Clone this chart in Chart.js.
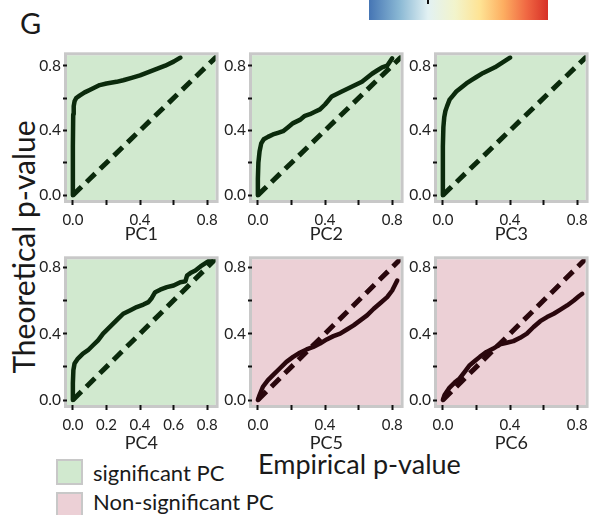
<!DOCTYPE html>
<html><head><meta charset="utf-8">
<script src="https://cdn.jsdelivr.net/npm/chart.js@4/dist/chart.umd.min.js"></script>
<style>
html,body{margin:0;padding:0;background:#fff;}
body{width:599px;height:515px;position:relative;overflow:hidden;font-family:Lato,"Open Sans",sans-serif;color:#1a1a1a;}
.cv{position:absolute;}
.txt{position:absolute;white-space:nowrap;line-height:1;}
</style></head>
<body>
<div id="cbar" style="position:absolute;left:369px;top:0;width:179px;height:20px;background:linear-gradient(to right,#4575b4 0%,#8ab8d4 17%,#e2f1f3 33%,#f2f4cc 48%,#fee394 62%,#fdae61 75%,#f06843 88%,#d73027 100%);"></div>
<div style="position:absolute;left:427px;top:0;width:2px;height:4px;background:#111;"></div>
<div class="txt" style="left:20px;top:8px;font-size:29px;">G</div>
<div class="txt" id="ytitle" style="left:23px;top:247px;font-size:30px;transform:translate(-50%,-50%) rotate(-90deg);">Theoretical p-value</div>
<div class="txt" style="left:258px;top:450px;font-size:27px;">Empirical p-value</div>
<div style="position:absolute;left:56px;top:459px;width:23px;height:22px;background:#d1e9cf;border:2px solid #c8c8c8;"></div>
<div style="position:absolute;left:56px;top:492px;width:23px;height:22px;background:#ecd0d6;border:2px solid #c8c8c8;"></div>
<div class="txt" style="left:93px;top:462px;font-size:22px;">significant PC</div>
<div class="txt" style="left:93px;top:491px;font-size:22px;">Non-significant PC</div>
<script>
// ---- data (empirical x, theoretical y) ----
const panelNames = ["PC1","PC2","PC3","PC4","PC5","PC6"];
const significant = [true,true,true,true,false,false];
const tickValues = [0,0.2,0.4,0.6,0.8];
const diagX = [0,0.87];
const diagY = [0,0.87];

const pc1X = [0,0,0.002,0.005,0.01,0.02,0.04,0.07,0.1,0.13,0.16,0.2,0.26,0.3,0.35,0.4,0.45,0.5,0.55,0.6,0.64];
const pc1Y = [0,0.3,0.5,0.55,0.58,0.6,0.615,0.635,0.65,0.665,0.68,0.69,0.70,0.71,0.725,0.74,0.76,0.78,0.80,0.825,0.85];

const pc2X = [0,0,0.003,0.01,0.02,0.035,0.06,0.09,0.12,0.15,0.18,0.21,0.25,0.28,0.31,0.34,0.37,0.4,0.42,0.44,0.47,0.5,0.54,0.58,0.62,0.65,0.68,0.71,0.74,0.77,0.8];
const pc2Y = [0,0.1,0.2,0.27,0.32,0.345,0.36,0.375,0.385,0.395,0.42,0.445,0.465,0.49,0.5,0.515,0.53,0.56,0.585,0.61,0.625,0.64,0.66,0.68,0.70,0.725,0.75,0.77,0.79,0.80,0.845];

const pc3X = [0,0,0.003,0.008,0.015,0.025,0.04,0.06,0.08,0.11,0.14,0.17,0.2,0.24,0.28,0.31,0.34,0.37,0.4];
const pc3Y = [0,0.3,0.42,0.48,0.52,0.55,0.59,0.615,0.64,0.665,0.69,0.71,0.73,0.755,0.775,0.79,0.81,0.83,0.85];

const pc4X = [0,0,0.003,0.01,0.03,0.06,0.09,0.12,0.15,0.18,0.21,0.24,0.27,0.3,0.34,0.38,0.42,0.45,0.47,0.49,0.52,0.56,0.6,0.64,0.67,0.68,0.7,0.73,0.76,0.79,0.82];
const pc4Y = [0,0.1,0.18,0.22,0.25,0.28,0.3,0.33,0.36,0.4,0.43,0.46,0.49,0.52,0.54,0.56,0.575,0.59,0.615,0.65,0.665,0.68,0.69,0.71,0.715,0.75,0.765,0.78,0.805,0.825,0.845];

const pc5X = [0,0.01,0.03,0.06,0.09,0.13,0.17,0.21,0.25,0.29,0.33,0.37,0.41,0.45,0.49,0.53,0.57,0.61,0.65,0.69,0.73,0.77,0.8,0.83];
const pc5Y = [0,0.03,0.08,0.12,0.15,0.19,0.23,0.26,0.285,0.305,0.32,0.34,0.365,0.385,0.4,0.425,0.45,0.48,0.51,0.55,0.585,0.62,0.66,0.72];

const pc6X = [0,0.01,0.04,0.07,0.1,0.13,0.16,0.19,0.22,0.26,0.3,0.34,0.38,0.42,0.46,0.5,0.54,0.58,0.62,0.66,0.7,0.74,0.78,0.81,0.83];
const pc6Y = [0,0.03,0.075,0.105,0.13,0.17,0.21,0.235,0.26,0.29,0.31,0.335,0.345,0.355,0.375,0.4,0.44,0.475,0.5,0.52,0.545,0.57,0.6,0.625,0.64];

const seriesX = [pc1X,pc2X,pc3X,pc4X,pc5X,pc6X];
const seriesY = [pc1Y,pc2Y,pc3Y,pc4Y,pc5Y,pc6Y];

// ---- layout ----
const colLeft = [67,252,437];
const rowTop = [48,252];
const areaW = 151;
const areaH = [152,153];
const yAxisW = 45, padTop = 4, padRight = 6, xAxisH = [47,51];

const panelBg = {
  id:'panelBg',
  beforeDraw(chart, args, opts){
    const {ctx, chartArea:a} = chart;
    ctx.save();
    ctx.fillStyle = opts.fill;
    ctx.fillRect(a.left, a.top, a.width, a.height);
    ctx.strokeStyle = '#c8c8c8';
    ctx.lineWidth = 3;
    ctx.strokeRect(a.left-1.5, a.top-1.5, a.width+3, a.height+3);
    ctx.restore();
  }
};

panelNames.forEach((name, i) => {
  const r = Math.floor(i/3), c = i%3;
  const cv = document.createElement('canvas');
  cv.className = 'cv';
  const w = yAxisW + areaW + padRight;
  const h = padTop + areaH[r] + xAxisH[r];
  cv.style.left = (colLeft[c] - yAxisW) + 'px';
  cv.style.top = (rowTop[r] - padTop) + 'px';
  cv.style.width = w + 'px'; cv.style.height = h + 'px';
  cv.width = w; cv.height = h;
  document.body.appendChild(cv);
  const col = significant[i] ? '#0b2a0c' : '#2a070d';
  const allX = (i === 3);
  new Chart(cv, {
    type: 'line',
    data: {
      datasets: [
        { data: seriesX[i].map((x,k)=>({x, y: seriesY[i][k]})), borderColor: col, borderWidth: 4.5, pointRadius: 0, tension: 0, clip: 0, borderJoinStyle:'round', borderCapStyle:'round' },
        { data: diagX.map((x,k)=>({x, y: diagY[k]})), borderColor: col, borderWidth: 5, borderDash: [12,7], pointRadius: 0, clip: 0 }
      ]
    },
    options: {
      responsive: false, animation: false, devicePixelRatio: 1,
      layout: { padding: { top: padTop, right: padRight, left: 0, bottom: 0 } },
      plugins: { legend: { display: false }, tooltip: { enabled: false }, panelBg: { fill: significant[i] ? '#d1e9cf' : '#ecd0d6' } },
      scales: {
        x: {
          type: 'linear', min: -0.035, max: 0.85,
          afterBuildTicks: s => { s.ticks = tickValues.map(v=>({value:v})); },
          afterFit: s => { s.height = xAxisH[r]; },
          ticks: { autoSkip: false, maxRotation: 0, padding: 6, color: '#222', font: { family: 'Lato', size: 15 },
                   callback: v => (allX || Math.round(v*10) % 4 === 0) ? v.toFixed(1) : '' },
          grid: { drawOnChartArea: false, drawTicks: true, tickLength: 5, tickColor: '#111', tickWidth: 2 },
          border: { display: false },
          title: { display: true, text: name, color: '#222', font: { family: 'Lato', size: 18 }, padding: { top: 0, bottom: 2 } }
        },
        y: {
          type: 'linear', min: -0.03, max: r === 0 ? 0.864 : 0.848,
          afterBuildTicks: s => { s.ticks = tickValues.map(v=>({value:v})); },
          afterFit: s => { s.width = yAxisW; },
          ticks: { autoSkip: false, padding: 2, color: '#222', font: { family: 'Lato', size: 15.5 },
                   callback: v => (Math.round(v*10) % 4 === 0) ? v.toFixed(1) : '' },
          grid: { drawOnChartArea: false, drawTicks: true, tickLength: 4, tickColor: '#111', tickWidth: 2 },
          border: { display: false }
        }
      }
    },
    plugins: [panelBg]
  });
});
</script>
</body></html>
